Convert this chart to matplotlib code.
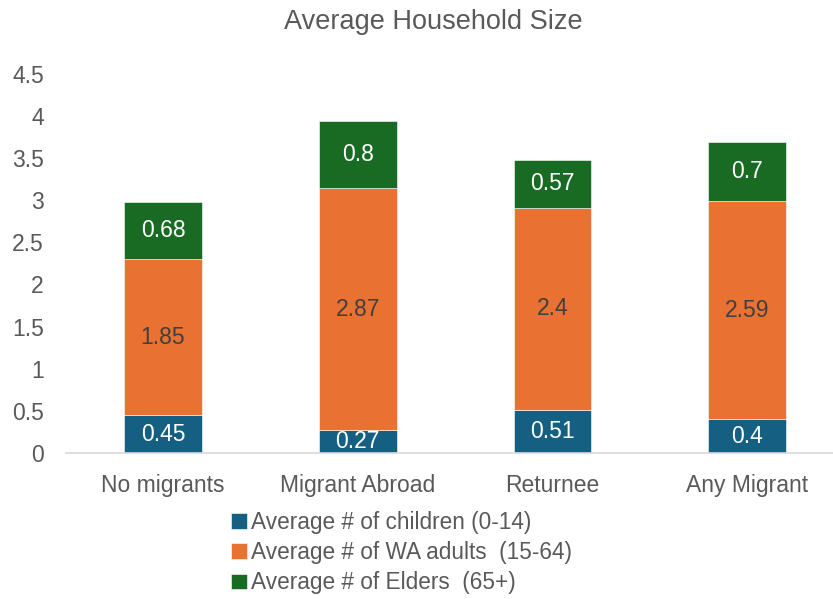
import matplotlib.pyplot as plt
import numpy as np

plt.rcParams['font.family'] = ['Liberation Sans', 'DejaVu Sans']

# data
categories = ['No migrants', 'Migrant Abroad', 'Returnee', 'Any Migrant']
children = [0.45, 0.27, 0.51, 0.4]
adults = [1.85, 2.87, 2.4, 2.59]
elders = [0.68, 0.8, 0.57, 0.7]
series_names = ['Average # of children (0-14)',
                'Average # of WA adults  (15-64)',
                'Average # of Elders  (65+)']

colors = ['#156082', '#E97132', '#196B24']
label_colors = ['white', '#404040', 'white']
grey = '#595959'

W, H = 833, 599
fig = plt.figure(figsize=(W / 100, H / 100), dpi=100)
ax = fig.add_axes([66 / W, 1 - 453 / H, (833 - 66) / W, (453 - 73.7) / H])

x = np.arange(len(categories))
bottom = np.zeros(len(categories))
handles = []
for vals, col, lc, name in zip([children, adults, elders], colors, label_colors, series_names):
    bars = ax.bar(x, vals, width=0.40, bottom=bottom, color=col,
                  edgecolor='white', linewidth=0.4, label=name)
    handles.append(bars)
    for xi, b, v in zip(x, bottom, vals):
        ax.text(xi, b + v / 2, f'{v:g}', ha='center', va='center',
                color=lc, fontsize=16.5)
    bottom += np.array(vals)

ax.set_xlim(-0.498, 3.44)
ax.set_ylim(0, 4.5)
ax.set_yticks(np.arange(0, 4.51, 0.5))
ax.set_yticklabels([f'{t:g}' for t in np.arange(0, 4.51, 0.5)])
ax.set_xticks(x)
ax.set_xticklabels(categories)
ax.tick_params(axis='both', length=0, labelsize=16.5, labelcolor=grey)
ax.tick_params(axis='y', pad=16)
ax.tick_params(axis='x', pad=15)
for s in ['top', 'right', 'left']:
    ax.spines[s].set_visible(False)
ax.spines['bottom'].set_color('#d9d9d9')
ax.spines['bottom'].set_linewidth(1.2)

fig.text(433 / W, 1 - 22 / H, 'Average Household Size', ha='center', va='center',
         fontsize=19.5, color=grey)

fig.legend(handles=handles, loc='upper left', bbox_to_anchor=(231 / W, 1 - 511 / H),
           frameon=False, fontsize=16.3, labelcolor=grey, handlelength=0.7,
           handleheight=0.7, handletextpad=0.2, labelspacing=0.32,
           borderpad=0, borderaxespad=0)

fig.savefig('out.png', dpi=100)
